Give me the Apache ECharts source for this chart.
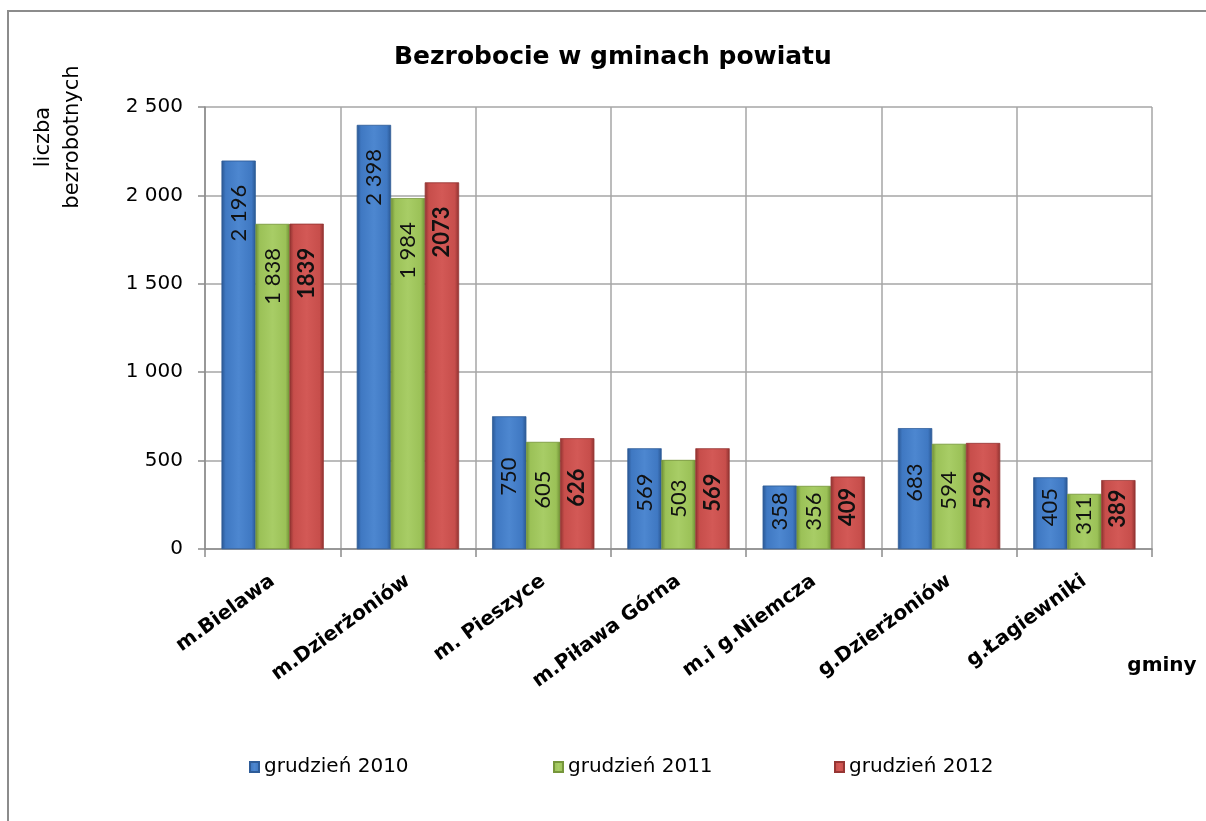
<!DOCTYPE html>
<html>
<head>
<meta charset="utf-8">
<title>Bezrobocie w gminach powiatu</title>
<script src="https://cdn.jsdelivr.net/npm/echarts@6/dist/echarts.min.js"></script>
<style>
  html, body { margin: 0; padding: 0; background: #fff; }
  #main { width: 1206px; height: 821px; }
</style>
</head>
<body>
<div id="main"></div>
<script>
// dane
var gminy = ['m.Bielawa', 'm.Dzierżoniów', 'm. Pieszyce', 'm.Piława Górna', 'm.i g.Niemcza', 'g.Dzierżoniów', 'g.Łagiewniki'];
var grudzien2010 = [2196, 2398, 750, 569, 358, 683, 405];
var grudzien2011 = [1838, 1984, 605, 503, 356, 594, 311];
var grudzien2012 = [1839, 2073, 626, 569, 409, 599, 389];
var serieNazwy = ['grudzień 2010', 'grudzień 2011', 'grudzień 2012'];

// 2 500 zamiast 2500
function spacja(v) {
    var s = String(v);
    return s.length > 3 ? s.slice(0, -3) + ' ' + s.slice(-3) : s;
}

function gradient(c1, c2, c3) {
    return new echarts.graphic.LinearGradient(0, 0, 1, 0, [
        { offset: 0, color: c3 },
        { offset: 0.12, color: c2 },
        { offset: 0.5, color: c1 },
        { offset: 0.88, color: c2 },
        { offset: 1, color: c3 }
    ]);
}

function initChart() {
    var myChart = echarts.init(document.getElementById('main'));

    var etykieta = function (bold) {
        return {
            show: true,
            position: 'insideTop',
            distance: 24,
            rotate: 90,
            align: 'right',
            verticalAlign: 'middle',
            fontFamily: 'Lato',
            fontSize: 22,
            fontWeight: bold ? 'bold' : 'normal',
            color: '#111',
            formatter: function (p) { return bold ? String(p.value) : spacja(p.value); }
        };
    };

    // niskie słupki: etykieta na środku, wysokie: przy górze
    var ulozenie = function (p) {
        var r = p.rect, len = p.labelRect.height;
        if (r.height < 150) {
            return { y: r.y + r.height / 2 - len / 2 - 6 };
        }
        return { y: r.y + 24 };
    };

    var option = {
        backgroundColor: '#fff',
        title: {
            text: 'Bezrobocie w gminach powiatu',
            left: 389,
            top: 40,
            textStyle: { fontFamily: 'DejaVu Sans', fontSize: 25, fontWeight: 'bold', color: '#000' }
        },
        legend: [0, 1, 2].map(function (i) {
            return {
                data: [serieNazwy[i]],
                left: [244, 548, 829][i],
                top: 752,
                icon: 'rect',
                itemWidth: 9,
                itemHeight: 10,
                itemGap: 0,
                textStyle: { fontFamily: 'DejaVu Sans', fontSize: 20, color: '#000' }
            };
        }),
        grid: { left: 205, right: 54, top: 107, bottom: 272 },
        xAxis: {
            type: 'category',
            data: gminy,
            axisLine: { lineStyle: { color: '#8c8c8c', width: 1.5 } },
            axisTick: { show: true, length: 8, lineStyle: { color: '#8c8c8c', width: 1.5 } },
            splitLine: { show: true, lineStyle: { color: '#a6a6a6', width: 1.5 } },
            axisLabel: {
                rotate: 36,
                margin: 30,
                interval: 0,
                fontFamily: 'DejaVu Sans',
                fontWeight: 'bold',
                fontSize: 20,
                color: '#000'
            }
        },
        yAxis: {
            type: 'value',
            min: 0,
            max: 2500,
            interval: 500,
            axisLine: { show: true, lineStyle: { color: '#8c8c8c', width: 1.5 } },
            axisTick: { show: true, length: 7, lineStyle: { color: '#8c8c8c', width: 1.5 } },
            splitLine: { lineStyle: { color: '#a6a6a6', width: 1.5 } },
            axisLabel: {
                margin: 22,
                fontFamily: 'DejaVu Sans',
                fontSize: 20,
                color: '#000',
                formatter: spacja
            }
        },
        graphic: [
            {
                type: 'rect',
                shape: { x: 8, y: 11, width: 1300, height: 900 },
                style: { fill: 'none', stroke: '#8c8c8c', lineWidth: 2 },
                silent: true
            },
            {
                type: 'text',
                x: 58,
                y: 137,
                rotation: Math.PI / 2,
                style: {
                    text: 'liczba\nbezrobotnych',
                    fontFamily: 'DejaVu Sans',
                    fontSize: 21,
                    lineHeight: 29,
                    fill: '#000',
                    align: 'center',
                    verticalAlign: 'middle'
                }
            },
            {
                type: 'text',
                x: 1162,
                y: 666,
                style: {
                    text: 'gminy',
                    fontFamily: 'DejaVu Sans',
                    fontSize: 20,
                    fontWeight: 'bold',
                    fill: '#000',
                    align: 'center',
                    verticalAlign: 'middle'
                }
            }
        ],
        series: [
            {
                name: serieNazwy[0],
                type: 'bar',
                data: grudzien2010,
                barWidth: 34,
                barGap: '0%',
                itemStyle: { color: gradient('#4d87d0', '#3f78c2', '#2a5793'), borderColor: '#2e5c98', borderWidth: 0.5 },
                label: etykieta(false),
                labelLayout: ulozenie
            },
            {
                name: serieNazwy[1],
                type: 'bar',
                data: grudzien2011,
                barWidth: 34,
                barGap: '0%',
                itemStyle: { color: gradient('#a8cd66', '#9bc157', '#6f8f35'), borderColor: '#76963b', borderWidth: 0.5 },
                label: etykieta(false),
                labelLayout: ulozenie
            },
            {
                name: serieNazwy[2],
                type: 'bar',
                data: grudzien2012,
                barWidth: 34,
                barGap: '0%',
                itemStyle: { color: gradient('#d35956', '#c74e4b', '#8f3230'), borderColor: '#963634', borderWidth: 0.5 },
                label: etykieta(true),
                labelLayout: ulozenie
            }
        ]
    };

    myChart.setOption(option);
}

initChart();
</script>
</body>
</html>
